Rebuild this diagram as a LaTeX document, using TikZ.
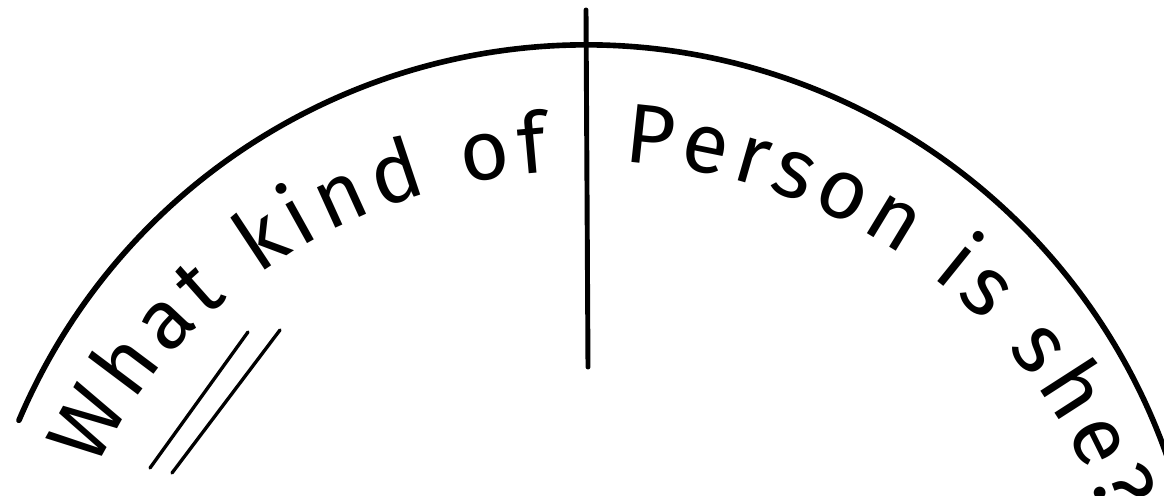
\documentclass[tikz,border=0pt]{standalone}
\usepackage{fontspec}
\setmainfont{Fira Sans}
\usetikzlibrary{decorations.text}

\newcommand{\arcfont}{\fontsize{48}{54}\selectfont}

\begin{document}
\begin{tikzpicture}[
    x=0.02cm, y=0.02cm,
    rim/.style={draw=black, line width=3.2pt, line cap=round},
    divider/.style={draw=black, line width=2.8pt, line cap=round},
    underline/.style={draw=black, line width=1.9pt, line cap=round},
    arctext/.style={
        decorate,
        decoration={text along path, text align=fit to path,
            text={|\arcfont|#1}}
    },
]

% === Frame ===
\useasboundingbox (0,0) rectangle (1164,495);

% === Arc centre and divider end points ===
\coordinate (ctr) at (586,-166);
\coordinate (divtop) at (586,485);
\coordinate (divbot) at (588,128);

% === Outer arc ===
\draw[rim] (ctr) ++(157:616) arc[start angle=157, end angle=18, radius=616];

% === Divider ===
\draw[divider] (divtop) -- (divbot);

% === Text along the arc ===
\path[arctext={What kind of}]
    (ctr) ++(157:532 and 490) arc[start angle=157, end angle=94, x radius=532, y radius=490];
\path[arctext={Person is she?}]
    (ctr) ++(86:540 and 500) arc[start angle=86, end angle=17, x radius=540, y radius=500];

% === Double underline ===
\coordinate (ulA1) at (150,27);
\coordinate (ulA2) at (248,163);
\coordinate (ulB1) at (172,22);
\coordinate (ulB2) at (280,165);
\draw[underline] (ulA1) -- (ulA2);
\draw[underline] (ulB1) -- (ulB2);

\end{tikzpicture}
\end{document}
